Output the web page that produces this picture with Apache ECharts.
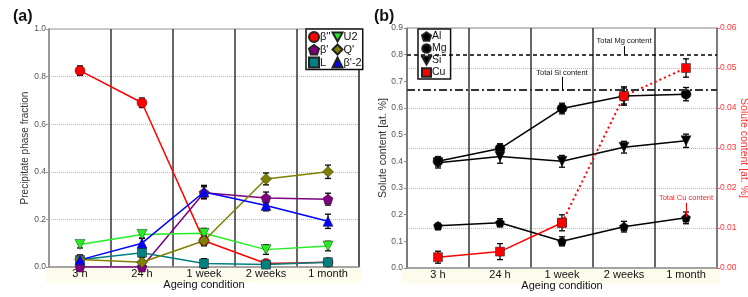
<!DOCTYPE html>
<html><head><meta charset="utf-8">
<script src="https://cdn.jsdelivr.net/npm/echarts@6/dist/echarts.min.js"></script>
<style>html,body{margin:0;padding:0;background:#fff}#c{width:748px;height:297px}</style>
</head><body><div id="c"></div>
<script>
// ---------- data ----------
const categories = ['3 h', '24 h', '1 week', '2 weeks', '1 month'];
// Panel (a): precipitate phase fractions
const betaDD   = [0.825, 0.690, 0.110, 0.015, 0.020];
const betaDDe  = [0.020, 0.020, 0.020, 0.010, 0.010];
const betaP    = [0.000, 0.000, 0.312, 0.290, 0.285];
const betaPe   = [0.005, 0.005, 0.025, 0.025, 0.025];
const phaseL   = [0.030, 0.060, 0.015, 0.010, 0.020];
const phaseLe  = [0.020, 0.020, 0.020, 0.010, 0.015];
const phaseU2  = [0.095, 0.137, 0.142, 0.073, 0.088];
const phaseU2e = [0.015, 0.015, 0.020, 0.020, 0.020];
const phaseQ   = [0.032, 0.020, 0.110, 0.370, 0.400];
const phaseQe  = [0.010, 0.010, 0.020, 0.025, 0.028];
const betaP2   = [0.030, 0.100, 0.315, 0.258, 0.192];
const betaP2e  = [0.020, 0.020, 0.028, 0.022, 0.030];
const yTicksA  = [0, 0.2, 0.4, 0.6, 0.8, 1.0];
// Panel (b): solute content [at.%]
const soluteAl  = [0.158, 0.170, 0.100, 0.155, 0.188];
const soluteAle = [0.010, 0.015, 0.017, 0.020, 0.022];
const soluteMg  = [0.400, 0.448, 0.598, 0.645, 0.652];
const soluteMge = [0.018, 0.018, 0.020, 0.030, 0.025];
const soluteSi  = [0.395, 0.418, 0.400, 0.453, 0.477];
const soluteSie = [0.020, 0.025, 0.022, 0.022, 0.025];
const soluteCu  = [0.0027, 0.0041, 0.0113, 0.0430, 0.0500];
const soluteCue = [0.0015, 0.0020, 0.0020, 0.0023, 0.0023];
const totalMg = 0.80;
const totalSi = 0.665;
const totalCu = 0.0127;
const leftTicksB  = [0, 0.1, 0.2, 0.3, 0.4, 0.5, 0.6, 0.7, 0.8, 0.9];
const rightTicksB = [0, 0.01, 0.02, 0.03, 0.04, 0.05, 0.06];

// ---------- helpers ----------
const pentagon = 'path://M50,0L97.6,34.5L79.4,90.5L20.6,90.5L2.4,34.5Z';
const downTri  = 'path://M0,0L100,0L50,90Z';
function errData(v, e) { return v.map((y, i) => [i, y - e[i], y + e[i]]); }
function errRender(params, api) {
  const x = api.value(0);
  const p1 = api.coord([x, api.value(1)]);
  const p2 = api.coord([x, api.value(2)]);
  const w = 3, st = { stroke: '#000', lineWidth: 1.3 };
  return { type: 'group', children: [
    { type: 'line', shape: { x1: p1[0], y1: p1[1], x2: p2[0], y2: p2[1] }, style: st },
    { type: 'line', shape: { x1: p1[0] - w, y1: p1[1], x2: p1[0] + w, y2: p1[1] }, style: st },
    { type: 'line', shape: { x1: p2[0] - w, y1: p2[1], x2: p2[0] + w, y2: p2[1] }, style: st }
  ]};
}
function errSeries(v, e, xi, yi) {
  return { type: 'custom', xAxisIndex: xi, yAxisIndex: yi, renderItem: errRender,
    encode: { x: 0, y: [1, 2] }, data: errData(v, e), z: 3, silent: true };
}
function lineSeries(name, data, color, symbol, xi, yi, size) {
  return { type: 'line', name: name, data: data, xAxisIndex: xi, yAxisIndex: yi,
    symbol: symbol, symbolSize: size || 9, showSymbol: true, z: 4,
    lineStyle: { color: color, width: 1.5 },
    itemStyle: { color: color, borderColor: '#222', borderWidth: 0.5, opacity: 1 } };
}

const FONT = 'Liberation Sans, Arial, sans-serif';
const catAxis = (gi) => ({
  type: 'category', gridIndex: gi, data: categories, boundaryGap: true,
  axisLine: { show: true, lineStyle: { color: '#999', width: 1.5 } },
  axisTick: { show: false },
  axisLabel: { color: '#111', fontSize: 11, margin: 1, fontFamily: FONT },
  splitLine: { show: true, lineStyle: { color: '#333', width: 1.5 } },
  name: 'Ageing condition', nameLocation: 'middle', nameGap: 12, nameMoveOverlap: false,
  nameTextStyle: { color: '#111', fontSize: 11, fontFamily: FONT }
});
const legendBase = {
  orient: 'vertical', itemGap: 1, itemWidth: 10, itemHeight: 10,
  backgroundColor: '#fff', borderColor: '#111', borderWidth: 1.5, borderRadius: 0
};

const option = {
  animation: false,
  backgroundColor: '#fff',
  textStyle: { fontFamily: FONT },
  title: [
    { text: '(a)', left: 8, top: 4, textStyle: { fontSize: 16, fontWeight: 'bold', color: '#111', fontFamily: FONT } },
    { text: '(b)', left: 369, top: 4, textStyle: { fontSize: 16, fontWeight: 'bold', color: '#111', fontFamily: FONT } }
  ],
  graphic: [
    { type: 'rect', shape: { x: 46, y: 268, width: 316, height: 15 }, style: { fill: '#fdfbec' }, z: -10, silent: true },
    { type: 'rect', shape: { x: 402, y: 269, width: 318, height: 15 }, style: { fill: '#fdfbec' }, z: -10, silent: true }
  ],
  grid: [
    { left: 49, top: 29, width: 310, height: 238, outerBoundsMode: 'none', containLabel: false,
      show: true, borderColor: '#999', borderWidth: 1, backgroundColor: 'transparent' },
    { left: 407, top: 28, width: 310, height: 240, outerBoundsMode: 'none', containLabel: false,
      show: true, borderColor: '#888', borderWidth: 1, backgroundColor: 'transparent' }
  ],
  legend: [
    Object.assign({}, legendBase, { left: 306, top: 29, height: 45, padding: [2, 1, 1, 2],
      textStyle: { fontSize: 11, lineHeight: 11, color: '#111', padding: [0, 0, 0, -4] },
      data: [
        { name: "β''", icon: 'circle' }, { name: "β'", icon: pentagon }, { name: 'L', icon: 'rect' },
        { name: 'U2', icon: downTri }, { name: "Q'", icon: 'diamond' }, { name: "β'-2", icon: 'triangle' }
      ] }),
    Object.assign({}, legendBase, { left: 418, top: 29, padding: [2, 4, 1, 3], itemGap: 1, itemWidth: 9, itemHeight: 8.5,
      textStyle: { fontSize: 10.5, lineHeight: 9, color: '#111', padding: [0, 0, 0, -4] },
      data: [
        { name: 'Al', icon: pentagon }, { name: 'Mg', icon: 'circle' },
        { name: 'Si', icon: downTri }, { name: 'Cu', icon: 'rect' }
      ] })
  ],
  xAxis: [catAxis(0), catAxis(1)],
  yAxis: [
    { type: 'value', gridIndex: 0, min: yTicksA[0], max: yTicksA[yTicksA.length - 1], interval: 0.2,
      axisLine: { show: true, lineStyle: { color: '#999', width: 2 } },
      axisTick: { show: true, length: 3, lineStyle: { color: '#999' } },
      axisLabel: { color: '#555', fontSize: 8.5, margin: 3, formatter: v => v.toFixed(1) },
      splitLine: { show: true, lineStyle: { color: '#bbb', type: 'dotted', width: 1 } },
      name: 'Precipitate phase fraction', nameLocation: 'middle', nameGap: 19, nameMoveOverlap: false,
      nameTextStyle: { color: '#333', fontSize: 10, fontFamily: FONT } },
    { type: 'value', gridIndex: 1, min: leftTicksB[0], max: leftTicksB[leftTicksB.length - 1], interval: 0.1,
      position: 'left',
      axisLine: { show: true, lineStyle: { color: '#888', width: 1.5 } },
      axisTick: { show: true, length: 3, lineStyle: { color: '#888' } },
      axisLabel: { color: '#555', fontSize: 8.5, margin: 4, formatter: v => v.toFixed(1) },
      splitLine: { show: false },
      name: 'Solute content [at. %]', nameLocation: 'middle', nameGap: 18, nameMoveOverlap: false,
      nameTextStyle: { color: '#333', fontSize: 10.5, fontFamily: FONT } },
    { type: 'value', gridIndex: 1, min: rightTicksB[0], max: rightTicksB[rightTicksB.length - 1], interval: 0.01,
      position: 'right',
      axisLine: { show: true, lineStyle: { color: '#888', width: 1.5 } },
      axisTick: { show: true, length: 3, lineStyle: { color: '#f55' } },
      axisLabel: { color: '#ff3333', fontSize: 8.5, margin: 3, formatter: v => v.toFixed(2) },
      splitLine: { show: true, lineStyle: { color: '#bbb', type: 'dotted', width: 1 } },
      name: 'Solute content [at. %]', nameLocation: 'middle', nameGap: 21, nameRotate: -90, nameMoveOverlap: false,
      nameTextStyle: { color: '#ff3333', fontSize: 10.5, fontFamily: FONT } }
  ],
  series: [
    // ---- panel (a) ----
    errSeries(betaDD, betaDDe, 0, 0), errSeries(betaP, betaPe, 0, 0), errSeries(phaseL, phaseLe, 0, 0),
    errSeries(phaseU2, phaseU2e, 0, 0), errSeries(phaseQ, phaseQe, 0, 0), errSeries(betaP2, betaP2e, 0, 0),
    lineSeries("β''", betaDD, '#ff0000', 'circle', 0, 0, 10),
    lineSeries("β'", betaP, '#800080', pentagon, 0, 0, 10),
    lineSeries('L', phaseL, '#008080', 'rect', 0, 0, 9),
    lineSeries('U2', phaseU2, '#22ee22', downTri, 0, 0, 10),
    lineSeries("Q'", phaseQ, '#808000', 'diamond', 0, 0, 11),
    lineSeries("β'-2", betaP2, '#0000ff', 'triangle', 0, 0, 10),
    // ---- panel (b) ----
    errSeries(soluteAl, soluteAle, 1, 1), errSeries(soluteMg, soluteMge, 1, 1), errSeries(soluteSi, soluteSie, 1, 1),
    errSeries(soluteCu, soluteCue, 1, 2),
    lineSeries('Al', soluteAl, '#000', pentagon, 1, 1, 9),
    Object.assign(lineSeries('Mg', soluteMg, '#000', 'circle', 1, 1, 10), {
      markLine: { silent: true, symbol: 'none', label: { show: false },
        data: [
          { yAxis: totalMg, lineStyle: { color: '#000', type: [4, 3], width: 1.5 } },
          { yAxis: totalSi, lineStyle: { color: '#333', type: [8, 3, 2, 3], width: 2 } },
          [{ coord: [3.0, 0.832] }, { coord: [2.97, totalMg], lineStyle: { color: '#000', width: 1, type: 'solid' } }],
          [{ coord: [1.92, 0.717] }, { coord: [1.87, totalSi], lineStyle: { color: '#000', width: 1, type: 'solid' } }]
        ] },
      markPoint: { silent: true, symbol: 'rect', symbolSize: 1, itemStyle: { color: 'rgba(0,0,0,0)' },
        label: { show: true, position: 'inside', color: '#111', fontSize: 7.5, fontFamily: FONT },
        data: [
          { coord: [2.98, 0.851], value: 'Total Mg content', label: { formatter: 'Total Mg content' } },
          { coord: [2.02, 0.733], value: 'Total Si content', label: { formatter: 'Total Si content' } }
        ] } }),
    lineSeries('Si', soluteSi, '#000', downTri, 1, 1, 10),
    Object.assign(lineSeries('Cu', [soluteCu[0], soluteCu[1], soluteCu[2], null, null], '#ff0000', 'rect', 1, 2, 9), {
      markLine: { silent: true, symbol: 'none', label: { show: false },
        data: [
          [{ coord: [2, totalCu] }, { coord: [4.5, totalCu], lineStyle: { color: '#ff0000', type: [4, 4], width: 1.5 } }],
          [{ coord: [3.88, 0.0163] }, { coord: [3.86, totalCu], lineStyle: { color: '#ff0000', width: 1, type: 'solid' } }]
        ] },
      markPoint: { silent: true, symbol: 'rect', symbolSize: 1, itemStyle: { color: 'rgba(0,0,0,0)' },
        label: { show: true, position: 'inside', color: '#ff2222', fontSize: 7.5, fontFamily: FONT },
        data: [ { coord: [4.0, 0.0176], value: 'Total Cu content', label: { formatter: 'Total Cu content' } } ] } }),
    Object.assign(lineSeries('Cu dotted', [null, null, soluteCu[2], soluteCu[3], soluteCu[4]], '#ff0000', 'rect', 1, 2, 9), {
      lineStyle: { color: '#ff0000', width: 2, type: [2, 3] } })
  ]
};
const chart = echarts.init(document.getElementById('c'), null, { renderer: 'canvas' });
chart.setOption(option);
</script></body></html>
